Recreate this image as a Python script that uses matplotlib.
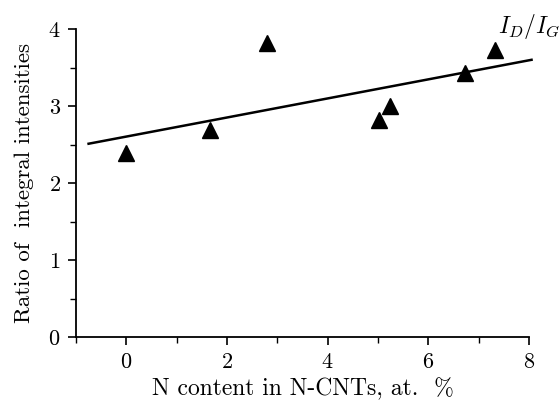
import matplotlib
matplotlib.use('Agg')
import matplotlib.pyplot as plt
from matplotlib.ticker import MultipleLocator

# Data
n_content = [0.0, 1.67, 2.8, 5.01, 5.23, 6.72, 7.32]
ratio_id_ig = [2.39, 2.69, 3.82, 2.82, 3.00, 3.43, 3.73]

# linear fit line end points
fit_x = [-0.75, 8.05]
fit_y = [2.51, 3.60]

plt.rcParams['font.family'] = ['cmr10', 'DejaVu Serif']
plt.rcParams['mathtext.fontset'] = 'cm'
plt.rcParams['axes.formatter.use_mathtext'] = True

fig = plt.figure(figsize=(5.6, 4.0), dpi=100)
ax = fig.add_axes([0.1357, 0.1575, 0.809, 0.77])

ax.plot(fit_x, fit_y, color='black', lw=1.8, clip_on=False)
ax.plot(n_content, ratio_id_ig, linestyle='none', marker='^', color='black',
        markersize=11, clip_on=False)

ax.set_xlim(-1, 8)
ax.set_ylim(0, 4)
ax.spines['top'].set_visible(False)
ax.spines['right'].set_visible(False)
ax.spines['bottom'].set_bounds(-1, 8)
ax.spines['left'].set_linewidth(1.3)
ax.spines['bottom'].set_linewidth(1.3)

ax.xaxis.set_major_locator(MultipleLocator(2))
ax.xaxis.set_minor_locator(MultipleLocator(1))
ax.yaxis.set_major_locator(MultipleLocator(1))
ax.yaxis.set_minor_locator(MultipleLocator(0.5))
ax.tick_params(which='major', direction='out', length=6, width=1.2, labelsize=16, pad=5)
ax.tick_params(which='minor', direction='out', length=4, width=1.0)

ax.set_xlabel('N content in N-CNTs, at.  %', fontsize=17, labelpad=4)
ax.set_ylabel('Ratio of  integral intensities', fontsize=16.5, labelpad=10)

ax.text(7.38, 4.03, r'$I_D/I_G$', fontsize=17, va='center', ha='left', clip_on=False)

fig.savefig('out.png', dpi=100)
plt.close(fig)
